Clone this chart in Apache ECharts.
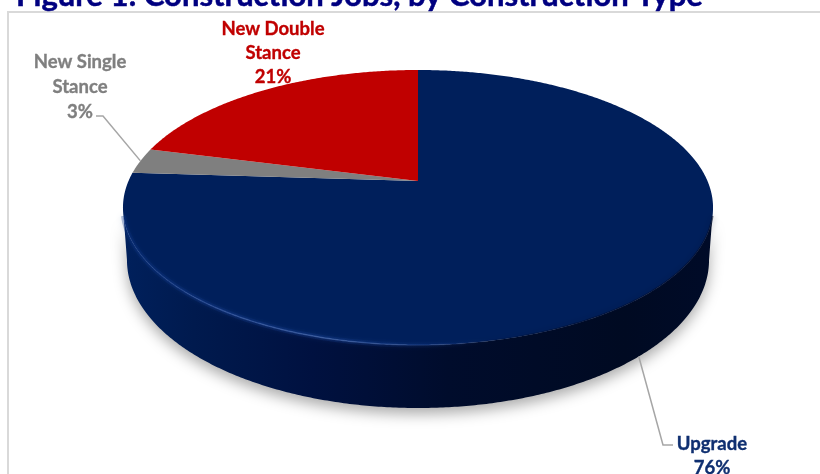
<!DOCTYPE html>
<html>
<head>
<meta charset="utf-8">
<style>html,body{margin:0;padding:0;background:#fff}#chart{width:820px;height:474px}</style>
<script src="https://cdn.jsdelivr.net/npm/echarts@6/dist/echarts.min.js"></script>
</head>
<body>
<div id="chart"></div>
<script>
// Construction jobs by type, drawn clockwise from twelve o'clock.
const titleText = 'Figure 1: Construction Jobs, by Construction Type';
const categories = ['Upgrade', 'New Single Stance', 'New Double Stance'];
const shares = [76, 3, 21];

const sliceColors = ['#001f5b', '#7f7f7f', '#c00000'];
const labelColors = ['#0f2f70', '#7f7f7f', '#c00000'];
const labelLines = [['Upgrade', '76%'], ['New Single', 'Stance', '3%'], ['New Double', 'Stance', '21%']];
const labelCentres = [[712, 444], [80, 62], [273, 29]];
const labelElbows = [[[663, 445], [673, 445]], [[103, 116], [96, 116]], null];
const leaderTurns = [0.385, 0.775, null];   // where each leader meets the disc, as a fraction of a turn

// Tilted-disc projection: a unit circle seen in perspective, front edge nearer the viewer.
const disc = { cx: 418, cy: 181, a: 132.4, b: 289.5, k: -0.1927 };
const base = { sx: 291 / 295, sy: 148 / 137.5, cy: 231.5 };
const frontFrom = Math.acos(disc.k);            // silhouette angles of the disc
const frontTo = 2 * Math.PI - frontFrom;

function onTop(t) {
  const dx = Math.sin(t), dy = -Math.cos(t), w = 1 + disc.k * dy;
  return [disc.cx + disc.b * dx / w, disc.cy + disc.a * dy / w];
}
function onBase(t) {
  const dx = Math.sin(t), dy = -Math.cos(t), w = 1 + disc.k * dy;
  return [disc.cx + base.sx * disc.b * dx / w, base.cy + base.sy * disc.a * dy / w];
}
function arc(fn, t0, t1) {
  const pts = [], n = Math.max(2, Math.ceil(Math.abs(t1 - t0) * 120));
  for (let i = 0; i <= n; i++) pts.push(fn(t0 + (t1 - t0) * i / n));
  return pts;
}

const total = shares.reduce((s, v) => s + v, 0);
function sliceRange(i) {
  const before = shares.slice(0, i).reduce((s, v) => s + v, 0);
  return [before / total * 2 * Math.PI, (before + shares[i]) / total * 2 * Math.PI];
}
const hGrad = (x0, x1, stops) => ({
  type: 'linear', x: x0, y: 0, x2: x1, y2: 0, global: true,
  colorStops: stops.map(s => ({ offset: s[0], color: s[1] }))
});

function renderWall(params, api) {
  const [t0, t1] = sliceRange(api.value(2));
  const from = Math.max(t0, frontFrom), to = Math.min(t1, frontTo);
  if (from >= to) return { type: 'group', children: [] };
  const pts = arc(onTop, from, to).concat(arc(onBase, to, from));
  return {
    type: 'polygon', shape: { points: pts },
    style: {
      fill: hGrad(123, 713, [[0, '#00205c'], [0.12, '#001a4e'], [0.32, '#001140'], [0.55, '#000c2c'], [0.85, '#000a22'], [1, '#000b28']]),
      shadowBlur: 14, shadowColor: 'rgba(0,0,0,0.33)', shadowOffsetY: 6
    }
  };
}

function renderTop(params, api) {
  const i = api.value(2);
  const [t0, t1] = sliceRange(i);
  const children = [{
    type: 'polygon',
    shape: { points: [[disc.cx, disc.cy]].concat(arc(onTop, t0, t1)) },
    style: { fill: sliceColors[i] }
  }];
  const from = Math.max(t0, frontFrom), to = Math.min(t1, frontTo);
  if (from < to) {
    const rim = arc(onTop, from + 0.06, to - 0.06);
    // soft shade on the far side of the rim, pale glint on the near side
    children.push({
      type: 'polyline', shape: { points: rim },
      style: {
        fill: null, lineWidth: 2, shadowBlur: 6, shadowColor: 'rgba(0,10,40,0.6)',
        stroke: hGrad(440, 711, [[0, 'rgba(0,12,44,0)'], [0.5, 'rgba(0,12,44,0.55)'], [1, 'rgba(0,12,44,0.6)']])
      }
    });
    children.push({
      type: 'polyline', shape: { points: rim },
      style: {
        fill: null, lineWidth: 5, shadowBlur: 6, shadowColor: 'rgba(10,50,130,0.35)',
        stroke: hGrad(123, 480, [[0, 'rgba(10,50,130,0.3)'], [0.6, 'rgba(15,55,135,0.3)'], [1, 'rgba(10,50,130,0)']])
      }
    });
    children.push({
      type: 'polyline', shape: { points: rim },
      style: {
        fill: null, lineWidth: 1.5, shadowBlur: 4, shadowColor: 'rgba(60,95,170,0.5)',
        stroke: hGrad(123, 500, [[0, 'rgba(30,70,150,0.2)'], [0.25, 'rgba(55,90,165,0.6)'], [0.55, 'rgba(70,105,175,0.65)'], [0.85, 'rgba(50,85,160,0.3)'], [1, 'rgba(40,70,140,0)']])
      }
    });
  }
  return { type: 'group', children };
}

function renderLabel(params, api) {
  const i = api.value(2);
  const children = [];
  const step = i === 1 ? 25 : 24;
  labelLines[i].forEach((line, n) => children.push({
    type: 'text',
    style: {
      text: line, x: labelCentres[i][0], y: labelCentres[i][1] + n * step,
      fill: labelColors[i], stroke: labelColors[i], lineWidth: 0.35,
      font: 'bold 18.5px Lato', textAlign: 'center', textVerticalAlign: 'middle'
    }
  }));
  if (labelElbows[i]) {
    const t = leaderTurns[i] * 2 * Math.PI;
    const start = t > frontFrom && t < frontTo ? onBase(t) : onTop(t);
    children.push({
      type: 'polyline', shape: { points: [start].concat(labelElbows[i]) },
      style: { fill: null, stroke: '#a6a6a6', lineWidth: 1.5 }
    });
  }
  return { type: 'group', children };
}

const rows = categories.map((name, i) => ({ name, value: [name, shares[i], i] }));
const customSeries = (name, renderItem, z) => ({
  type: 'custom', name, coordinateSystem: 'none', renderItem, z,
  data: rows, silent: true, animation: false
});

const chart = echarts.init(document.getElementById('chart'), null, { renderer: 'canvas' });
chart.setOption({
  animation: false,
  backgroundColor: '#ffffff',
  title: {
    text: titleText, left: 11, top: -25,
    textStyle: {
      fontFamily: 'Lato', fontWeight: 'bold', fontSize: 31, color: '#000080',
      textBorderColor: '#000080', textBorderWidth: 0.5
    }
  },
  graphic: [{
    type: 'polyline', silent: true,
    shape: { points: [[8, 480], [8, 12], [830, 12]] },
    style: { fill: null, stroke: '#d9d9d9', lineWidth: 2 }
  }],
  series: [
    customSeries('Wall', renderWall, 1),
    customSeries('Top', renderTop, 2),
    customSeries('Labels', renderLabel, 3)
  ]
});
</script>
</body>
</html>
